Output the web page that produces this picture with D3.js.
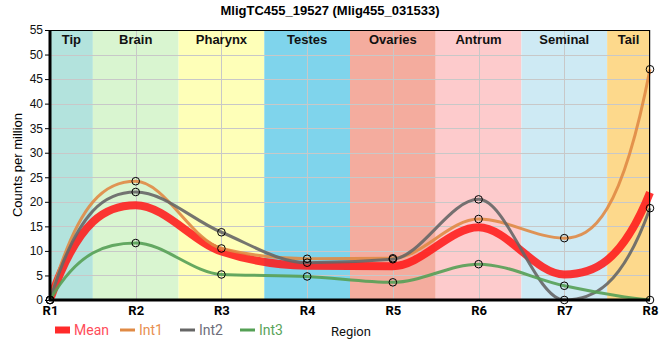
<!DOCTYPE html>
<html><head><meta charset="utf-8">
<script src="https://cdn.jsdelivr.net/npm/d3@7"></script>
<style>body{margin:0;background:#fff}svg{display:block}</style>
</head><body><svg id="c" width="660" height="360"></svg>
<script>
const regions = ["R1","R2","R3","R4","R5","R6","R7","R8"];
const bandNames = ["Tip","Brain","Pharynx","Testes","Ovaries","Antrum","Seminal","Tail"];
const bandColors = ["#b3e3dd","#d9f5d0","#feffb8","#7fd4ec","#f4ac9e","#fdcbcc","#ceeaf4","#fdd98c"];
const meanVals = [0, 19.3, 9.9, 7.0, 6.9, 14.8, 5.2, 21.9];
const int1Vals = [0, 24.2, 10.5, 8.4, 8.5, 16.5, 12.6, 47.0];
const int2Vals = [0, 22.0, 13.8, 7.6, 8.3, 20.5, 0, 18.7];
const int3Vals = [0, 11.6, 5.2, 4.8, 3.6, 7.3, 2.9, 0];
const yTicks = [0,5,10,15,20,25,30,35,40,45,50,55];
const series = [
  {name:"Int1", vals:int1Vals, color:"#e08a45"},
  {name:"Int2", vals:int2Vals, color:"#666666"},
  {name:"Int3", vals:int3Vals, color:"#55a055"}
];

// monotone Hermite curve with steeper free ends
function curveMono(context) {
  let pts = [];
  return {
    areaStart(){}, areaEnd(){},
    lineStart(){ pts = []; },
    point(x, y){ pts.push([+x, +y]); },
    lineEnd(){
      const n = pts.length;
      if (!n) return;
      context.moveTo(pts[0][0], pts[0][1]);
      if (n === 1) return;
      const s = [], m = new Array(n).fill(0);
      for (let i = 0; i < n - 1; i++) s.push((pts[i+1][1]-pts[i][1])/(pts[i+1][0]-pts[i][0]));
      for (let i = 1; i < n - 1; i++) {
        const a = s[i-1], b = s[i];
        if (a * b <= 0) { m[i] = 0; continue; }
        const p = (a + b) / 2;
        m[i] = Math.sign(a) * Math.min(Math.abs(a), Math.abs(b), 0.5 * Math.abs(p)) * 2;
      }
      const endSlope = (sv, adj) => {
        let v = 3 * sv - 2 * adj;
        if (v * sv < 0) v = 0;
        if (Math.abs(v) > 2.6 * Math.abs(sv)) v = 2.6 * sv;
        return v;
      };
      m[0] = n > 2 ? endSlope(s[0], m[1]) : s[0];
      m[n-1] = n > 2 ? endSlope(s[n-2], m[n-2]) : s[n-2];
      for (let i = 0; i < n - 1; i++) {
        const [x0, y0] = pts[i], [x1, y1] = pts[i+1], h = (x1 - x0) / 3;
        context.bezierCurveTo(x0 + h, y0 + m[i]*h, x1 - h, y1 - m[i+1]*h, x1, y1);
      }
    }
  };
}

const svg = d3.select("#c");
const m = {l:50, r:10, t:30, b:60};
const W = 660, H = 360;
const x = d3.scalePoint().domain(regions).range([m.l, W - m.r]);
const y = d3.scaleLinear().domain([0,55]).range([H - m.b, m.t]);
const step = x.step();

svg.append("defs").append("clipPath").attr("id","clip")
  .append("rect").attr("x", m.l).attr("y", m.t - 6).attr("width", W - m.r - m.l + 6).attr("height", y(0) - m.t + 6);

// bands
svg.append("g").selectAll("rect").data(bandNames).join("rect")
  .attr("x", (d,i) => Math.max(m.l, x(regions[i]) - step/2))
  .attr("width", (d,i) => Math.min(W - m.r, x(regions[i]) + step/2) - Math.max(m.l, x(regions[i]) - step/2))
  .attr("y", m.t).attr("height", y(0) - m.t)
  .attr("fill", (d,i) => bandColors[i]);

// grid
const g = svg.append("g").attr("stroke","#c8c8c8").attr("stroke-width",1);
g.selectAll(".h").data(yTicks).join("line")
  .attr("x1", m.l).attr("x2", W - m.r)
  .attr("y1", d => Math.round(y(d)) + 0.5).attr("y2", d => Math.round(y(d)) + 0.5);
g.selectAll(".v").data(regions).join("line")
  .attr("y1", m.t).attr("y2", y(0))
  .attr("x1", d => Math.round(x(d)) + 0.5).attr("x2", d => Math.round(x(d)) + 0.5);

// band labels
svg.append("g").selectAll("text").data(bandNames).join("text")
  .attr("x", (d,i) => (Math.max(m.l, x(regions[i]) - step/2) + Math.min(W - m.r, x(regions[i]) + step/2)) / 2)
  .attr("y", 44).attr("text-anchor","middle")
  .attr("font-family","Liberation Sans, Arial, sans-serif").attr("font-weight","bold").attr("font-size",13)
  .attr("fill","#111").text(d => d);

const line = d3.line().x((d,i) => x(regions[i])).y(d => y(d)).curve(curveMono);

const lines = svg.append("g").attr("clip-path","url(#clip)");
lines.append("path").attr("d", line(meanVals)).attr("fill","none")
  .attr("stroke","#ff1a1a").attr("stroke-opacity",0.88).attr("stroke-width",8);
series.forEach(s => {
  lines.append("path").attr("d", line(s.vals)).attr("fill","none")
    .attr("stroke", s.color).attr("stroke-opacity",0.9).attr("stroke-width",3);
});
series.forEach(s => {
  svg.append("g").selectAll("circle").data(s.vals).join("circle")
    .attr("cx",(d,i) => x(regions[i])).attr("cy", d => y(d)).attr("r",3.8)
    .attr("fill","none").attr("stroke","#000").attr("stroke-width",1);
});

// frame
svg.append("line").attr("x1",m.l).attr("x2",W-m.r).attr("y1",m.t+0.5).attr("y2",m.t+0.5).attr("stroke","#000");
svg.append("line").attr("x1",W-m.r-0.5).attr("x2",W-m.r-0.5).attr("y1",m.t).attr("y2",y(0)).attr("stroke","#000");

// axes
const ya = svg.append("g").attr("transform",`translate(${m.l},0)`)
  .call(d3.axisLeft(y).tickValues(yTicks).tickSize(5).tickPadding(2));
ya.select(".domain").attr("stroke-width",3).attr("d", `M0,${m.t}V${y(0)}`);
ya.selectAll("text").attr("font-family","Liberation Sans, Arial, sans-serif").attr("font-size",12).attr("fill","#111");
const xa = svg.append("g").attr("transform",`translate(0,${y(0)})`)
  .call(d3.axisBottom(x).tickSize(0).tickPadding(6));
xa.select(".domain").attr("stroke-width",3).attr("d", `M${m.l-1},0H${W-m.r}`);
xa.selectAll("text").attr("font-family","Roboto, sans-serif").attr("font-weight","bold").attr("font-size",13).attr("fill","#000");

// titles
svg.append("text").attr("x",330).attr("y",15).attr("text-anchor","middle")
  .attr("font-family","Liberation Sans, Arial, sans-serif").attr("font-weight","bold").attr("font-size",13)
  .text("MligTC455_19527 (Mlig455_031533)");
svg.append("text").attr("transform","translate(22,165) rotate(-90)").attr("text-anchor","middle")
  .attr("font-family","Liberation Sans, Arial, sans-serif").attr("font-size",13)
  .text("Counts per million");
svg.append("text").attr("x",331).attr("y",336)
  .attr("font-family","Roboto, sans-serif").attr("font-size",13).attr("fill","#111").text("Region");

// legend
const leg = [{name:"Mean", color:"#ff2a2a", tc:"#ff4d5a", w:7, x:55},
  {name:"Int1", color:"#e08a45", tc:"#e89050", w:3, x:120},
  {name:"Int2", color:"#666666", tc:"#6e6e7a", w:3, x:180},
  {name:"Int3", color:"#55a055", tc:"#5aa45a", w:3, x:240}];
const lg = svg.append("g");
leg.forEach(d => {
  lg.append("line").attr("x1",d.x).attr("x2",d.x+15).attr("y1",330).attr("y2",330)
    .attr("stroke",d.color).attr("stroke-width",d.w);
  lg.append("text").attr("x",d.x+19).attr("y",335).attr("font-family","Roboto, sans-serif")
    .attr("font-size",14).attr("fill",d.tc).text(d.name);
});
</script></body></html>
